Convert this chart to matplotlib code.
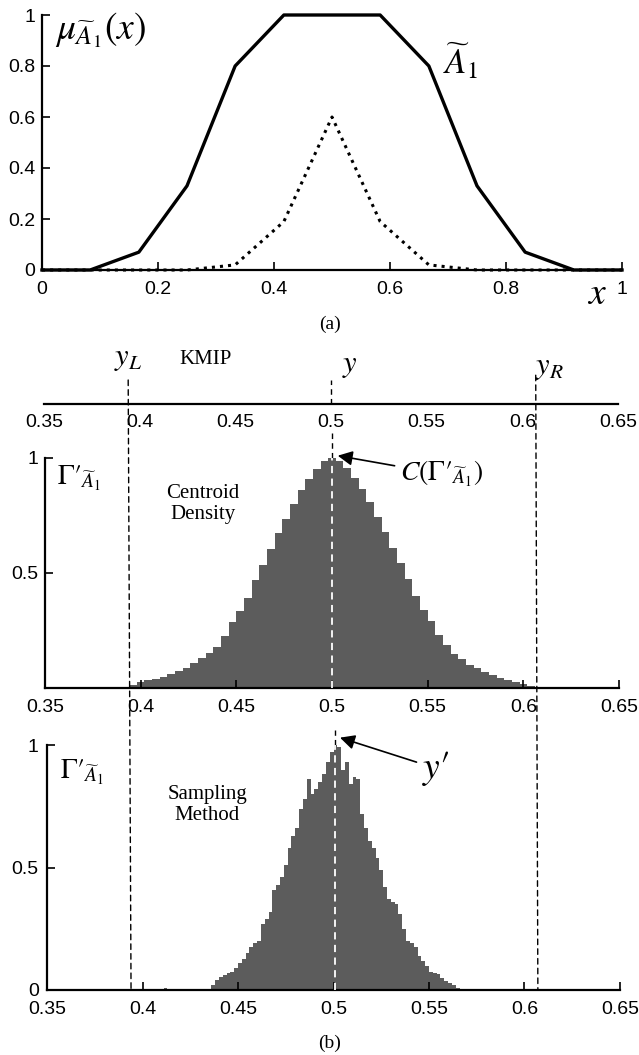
import numpy as np
import matplotlib
matplotlib.use('Agg')
import matplotlib.pyplot as plt
from matplotlib.patches import ConnectionPatch

plt.rcParams['font.family'] = ['Liberation Sans', 'DejaVu Sans']
plt.rcParams['mathtext.fontset'] = 'stix'

# (a) upper and lower membership of A1
x_pts = [0, 0.083, 0.167, 0.25, 0.333, 0.417, 0.5, 0.583, 0.667, 0.75, 0.833, 0.917, 1.0]
mu_upper = [0, 0, 0.07, 0.33, 0.8, 1, 1, 1, 0.8, 0.33, 0.07, 0, 0]
mu_lower = [0, 0, 0, 0, 0.02, 0.19, 0.6, 0.19, 0.02, 0, 0, 0, 0]

# KMIP interval and centroids
y_left = 0.394
y_centre = 0.5
y_right = 0.607
y_sample = 0.501

# (b) centroid density histogram (bins of 0.004 starting at 0.394)
dens_start = 0.394
dens_width = 0.004
dens_heights = [0.012, 0.025, 0.033, 0.041, 0.050, 0.062, 0.075, 0.088, 0.110, 0.130,
                0.152, 0.180, 0.225, 0.285, 0.335, 0.390, 0.470, 0.535, 0.605, 0.675,
                0.735, 0.800, 0.860, 0.910, 0.950, 0.985, 1.000, 0.985, 0.955, 0.915,
                0.865, 0.810, 0.745, 0.680, 0.610, 0.545, 0.475, 0.400, 0.340, 0.290,
                0.230, 0.185, 0.150, 0.125, 0.100, 0.085, 0.070, 0.058, 0.045, 0.035,
                0.025, 0.016, 0.008]

# (b) sampling method histogram (bins of 0.002 starting at 0.436)
samp_start = 0.436
samp_width = 0.002
samp_heights = [0.02, 0.04, 0.055, 0.06, 0.07, 0.075, 0.09, 0.11, 0.125, 0.15,
                0.175, 0.19, 0.20, 0.27, 0.29, 0.32, 0.41, 0.43, 0.46, 0.51,
                0.58, 0.63, 0.66, 0.74, 0.78, 0.86, 0.80, 0.82, 0.85, 0.88,
                0.93, 0.97, 1.00, 0.99, 0.90, 0.93, 0.84, 0.87, 0.86, 0.72,
                0.66, 0.61, 0.58, 0.54, 0.49, 0.42, 0.37, 0.36, 0.35, 0.31,
                0.25, 0.20, 0.19, 0.175, 0.14, 0.12, 0.10, 0.075, 0.07, 0.065,
                0.05, 0.035, 0.03, 0.02, 0.008]
stray_x = [0.400, 0.412, 0.423, 0.578]
stray_h = [0.005, 0.008, 0.004, 0.006]

kmip_ticks = [0.35, 0.4, 0.45, 0.5, 0.55, 0.6, 0.65]
kmip_labels = ['0.35', '0.4', '0.45', '0.5', '0.55', '0.6', '0.65']

W, H = 639, 1055
fig = plt.figure(figsize=(W / 100, H / 100), dpi=100)


def box(left, top, right, bottom):
    return [left / W, 1 - bottom / H, (right - left) / W, (bottom - top) / H]


serif = 'Liberation Serif'
hist_col = '#5c5c5c'
dash = (0, (4, 3))
gamma_lbl = r"$\Gamma′_{\widetilde{A}_1}$"


def style(ax, fs=14):
    for s in ['top', 'right']:
        ax.spines[s].set_visible(False)
    for s in ['left', 'bottom']:
        ax.spines[s].set_linewidth(1.6)
    ax.tick_params(direction='in', length=6, width=1.2, labelsize=fs, pad=5)
    ax.tick_params(axis='x', pad=8)


# ---------- (a)
ax_a = fig.add_axes(box(42, 15, 622, 270))
style(ax_a)
ax_a.plot(x_pts, mu_upper, color='k', lw=2.4, clip_on=False, zorder=3)
ax_a.plot(x_pts, mu_lower, color='k', lw=2.2, ls=':', clip_on=False, zorder=3)
ax_a.set_xlim(0, 1)
ax_a.set_ylim(0, 1)
ax_a.set_xticks([0, 0.2, 0.4, 0.6, 0.8, 1])
ax_a.set_xticklabels(['0', '0.2', '0.4', '0.6', '0.8', '1'])
ax_a.set_yticks([0, 0.2, 0.4, 0.6, 0.8, 1])
ax_a.set_yticklabels(['0', '0.2', '0.4', '0.6', '0.8', '1'])
ax_a.text(0.022, 0.94, r'$\mu_{\widetilde{A}_1}(x)$', fontsize=27, ha='left', va='center')
ax_a.text(0.722, 0.82, r'$\widetilde{A}_1$', fontsize=25, ha='center', va='center')
ax_a.text(0.957, -0.095, r'$x$', fontsize=27, ha='center', va='center', clip_on=False)
fig.text(330 / W, 1 - 324 / H, '(a)', family=serif, fontsize=14, ha='center', va='center')

# ---------- KMIP axis
ax_k = fig.add_axes(box(44, 340, 618, 404))
ax_k.set_xlim(0.35, 0.65)
ax_k.set_ylim(0, 1)
for s in ['top', 'right', 'left']:
    ax_k.spines[s].set_visible(False)
ax_k.spines['bottom'].set_linewidth(1.6)
ax_k.set_yticks([])
ax_k.set_xticks(kmip_ticks)
ax_k.set_xticklabels(kmip_labels)
ax_k.set_xticks([0.35, 0.65], minor=True)
ax_k.tick_params(axis='x', which='major', length=0, labelsize=14, pad=7)
ax_k.tick_params(axis='x', which='minor', direction='in', length=6, width=1.2)
ax_k.patch.set_alpha(0)
ax_k.vlines(y_centre, 0, 0.375, colors='k', linestyles=dash, lw=1)
ax_k.text(y_left, 0.72, r'$y_L$', fontsize=22, ha='center', va='center')
ax_k.text(0.4347, 0.69, 'KMIP', family=serif, fontsize=15, ha='center', va='center')
ax_k.text(0.51, 0.61, r'$y$', fontsize=22, ha='center', va='center')
ax_k.text(0.614, 0.58, r'$y_R$', fontsize=22, ha='center', va='center')

# ---------- centroid density
ax_m = fig.add_axes(box(45, 458, 619, 688))
style(ax_m)
dens_edges = dens_start + dens_width * np.arange(len(dens_heights) + 1)
ax_m.stairs(dens_heights, dens_edges, fill=True, color=hist_col, lw=0)
ax_m.set_xlim(0.35, 0.65)
ax_m.set_ylim(0, 1)
ax_m.set_xticks(kmip_ticks)
ax_m.set_xticklabels(kmip_labels)
ax_m.set_yticks([0.5, 1])
ax_m.set_yticklabels(['0.5', '1'])
ax_m.vlines(y_centre, 0, 1.0, colors='white', linestyles=dash, lw=1.3, zorder=4)
ax_m.vlines(y_centre, 1.0, 1.12, colors='k', linestyles=dash, lw=1, clip_on=False)
ax_m.text(0.3563, 0.91, gamma_lbl, fontsize=20, ha='left', va='center')
ax_m.text(0.4326, 0.80, 'Centroid\nDensity', family=serif, fontsize=15,
          ha='center', va='center', linespacing=1.15)
ax_m.annotate(r"$C(\Gamma′_{\widetilde{A}_1})$", xy=(0.503, 1.01), xytext=(0.5356, 0.93),
              fontsize=20, ha='left', va='center', annotation_clip=False,
              arrowprops=dict(arrowstyle='-|>', color='k', lw=1.2,
                              mutation_scale=22, shrinkA=2, shrinkB=0))

# ---------- sampling method
ax_b = fig.add_axes(box(47, 745, 620, 990))
style(ax_b)
samp_edges = samp_start + samp_width * np.arange(len(samp_heights) + 1)
ax_b.stairs(samp_heights, samp_edges, fill=True, color=hist_col, lw=0)
ax_b.bar(stray_x, stray_h, width=0.002, color=hist_col, lw=0)
ax_b.set_xlim(0.35, 0.65)
ax_b.set_ylim(0, 1)
ax_b.set_xticks(kmip_ticks)
ax_b.set_xticklabels(kmip_labels)
ax_b.set_yticks([0, 0.5, 1])
ax_b.set_yticklabels(['0', '0.5', '1'])
ax_b.tick_params(axis='y', pad=6)
ax_b.vlines(y_sample, 0, 1.0, colors='white', linestyles=dash, lw=1.3, zorder=4)
ax_b.vlines(y_sample, 1.0, 1.06, colors='k', linestyles=dash, lw=1, clip_on=False)
ax_b.text(0.3568, 0.89, gamma_lbl, fontsize=20, ha='left', va='center')
ax_b.text(0.4338, 0.755, 'Sampling\nMethod', family=serif, fontsize=15,
          ha='center', va='center', linespacing=1.15)
ax_b.annotate(r"$y′$", xy=(0.5034, 1.03), xytext=(0.5463, 0.905),
              fontsize=27, ha='left', va='center', annotation_clip=False,
              arrowprops=dict(arrowstyle='-|>', color='k', lw=1.2,
                              mutation_scale=22, shrinkA=2, shrinkB=0))
fig.text(330 / W, 1 - 1043 / H, '(b)', family=serif, fontsize=14, ha='center', va='center')

# KMIP bounds run down through both histograms
for xv, ytop in [(y_left, 0.375), (y_right, 0.45)]:
    con = ConnectionPatch(xyA=(xv, ytop), coordsA='data', axesA=ax_k,
                          xyB=(xv, 0), coordsB='data', axesB=ax_b,
                          color='k', lw=1, linestyle=dash, zorder=5)
    fig.add_artist(con)

fig.savefig('out.png', dpi=100)
